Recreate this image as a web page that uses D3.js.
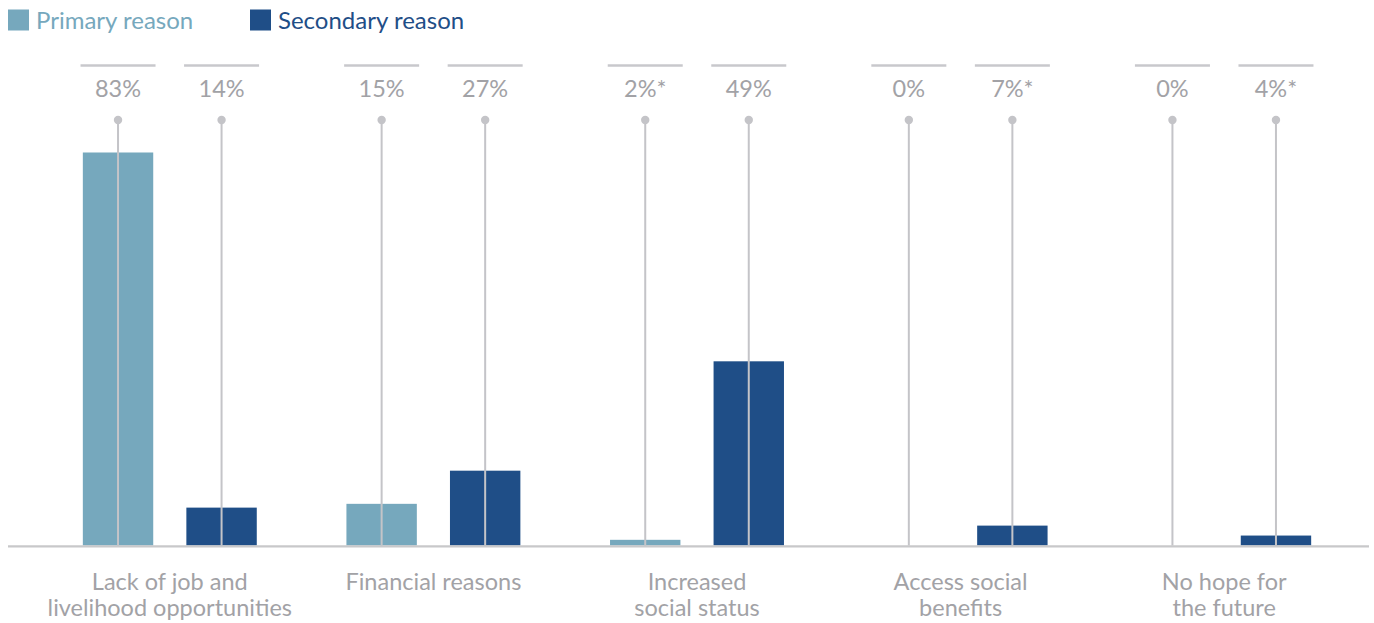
<!DOCTYPE html>
<html>
<head>
<meta charset="utf-8">
<script src="https://cdn.jsdelivr.net/npm/d3@7"></script>
<style>
  html, body { margin: 0; padding: 0; background: #ffffff; }
  svg { display: block; }
  text { font-family: Lato, "Open Sans", sans-serif; }
</style>
</head>
<body>
<svg id="chart" width="1374" height="623"></svg>
<script>
// ---- Data ----
const categories = [
  ["Lack of job and", "livelihood opportunities"],
  ["Financial reasons"],
  ["Increased", "social status"],
  ["Access social", "benefits"],
  ["No hope for", "the future"]
];
const seriesNames = ["Primary reason", "Secondary reason"];
// bar heights as drawn in the picture (relative scale)
const primaryValues = [83, 8.8, 1.2, 0, 0];
const secondaryValues = [8.0, 15.8, 38.9, 4.2, 2.1];
// printed value labels
const primaryLabels = ["83%", "15%", "2%*", "0%", "0%"];
const secondaryLabels = ["14%", "27%", "49%", "7%*", "4%*"];

const colors = { "Primary reason": "#76a8bd", "Secondary reason": "#1f4e87" };

// ---- Layout ----
const svg = d3.select("#chart");
const baseline = 545.5;

const catKeys = categories.map((c, i) => "c" + i);
const x0 = d3.scaleBand().domain(catKeys).range([38, 1356]).padding(0);
const x1 = d3.scaleBand().domain(seriesNames).range([0, x0.bandwidth()])
  .paddingInner(0.32).paddingOuter(0.433);
const y = d3.scaleLinear().domain([0, 100]).range([baseline, baseline - 473.5]);

const rows = [];
catKeys.forEach((k, i) => {
  rows.push({ cat: k, series: seriesNames[0], value: primaryValues[i], label: primaryLabels[i] });
  rows.push({ cat: k, series: seriesNames[1], value: secondaryValues[i], label: secondaryLabels[i] });
});
const cx = d => x0(d.cat) + x1(d.series) + x1.bandwidth() / 2;

// bars
svg.append("g").selectAll("rect").data(rows.filter(d => d.value > 0)).join("rect")
  .attr("x", d => x0(d.cat) + x1(d.series))
  .attr("width", x1.bandwidth())
  .attr("y", d => y(d.value))
  .attr("height", d => y(0) - y(d.value))
  .attr("fill", d => colors[d.series]);

// axis line
svg.append("line")
  .attr("x1", 8).attr("x2", 1369)
  .attr("y1", baseline + 0.8).attr("y2", baseline + 0.8)
  .attr("stroke", "#c8c8ca").attr("stroke-width", 2.2);

// stems
const dotY = 120;
const g = svg.append("g");
g.selectAll("line.stem").data(rows).join("line").attr("class", "stem")
  .attr("x1", cx).attr("x2", cx)
  .attr("y1", dotY).attr("y2", baseline)
  .attr("stroke", "#c4c4c8").attr("stroke-width", 2);
g.selectAll("circle").data(rows).join("circle")
  .attr("cx", cx).attr("cy", dotY).attr("r", 4.2)
  .attr("fill", "#c4c4c8");
// top rules
g.selectAll("line.rule").data(rows).join("line").attr("class", "rule")
  .attr("x1", d => cx(d) - 37.5).attr("x2", d => cx(d) + 37.5)
  .attr("y1", 65.5).attr("y2", 65.5)
  .attr("stroke", "#c8c8cc").attr("stroke-width", 2.5);
// value labels
g.selectAll("text.val").data(rows).join("text").attr("class", "val")
  .attr("x", cx).attr("y", 97)
  .attr("text-anchor", "middle")
  .attr("font-size", 23.5)
  .attr("fill", "#a2a2a6")
  .text(d => d.label);

// category labels
const cl = svg.append("g").selectAll("text").data(categories).join("text")
  .attr("text-anchor", "middle")
  .attr("font-size", 23.5)
  .attr("fill", "#a2a2a6")
  .attr("transform", (d, i) => `translate(${x0(catKeys[i]) + x0.bandwidth() / 2},0)`);
cl.selectAll("tspan").data(d => d).join("tspan")
  .attr("x", 0)
  .attr("y", (d, j) => 590 + j * 25.5)
  .text(d => d);

// legend
const leg = svg.append("g").selectAll("g").data(seriesNames).join("g")
  .attr("transform", (d, i) => `translate(${i === 0 ? 8 : 250},0)`);
leg.append("rect").attr("x", 0).attr("y", 9.5).attr("width", 21).attr("height", 21)
  .attr("fill", d => colors[d]);
leg.append("text").attr("x", 28).attr("y", 29).attr("font-size", 24)
  .attr("fill", d => colors[d]).text(d => d);
</script>
</body>
</html>
